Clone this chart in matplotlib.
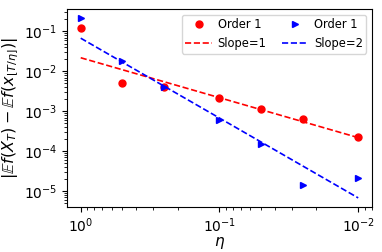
import numpy as np
import matplotlib
matplotlib.use("Agg")
import matplotlib.pyplot as plt

eta = [1.0, 0.5, 0.25, 0.1, 0.05, 0.025, 0.01]
err_red = [0.122, 0.0050, 0.0040, 0.0021, 0.00115, 0.00064, 0.000224]
err_blue = [0.217, 0.0178, 0.0041, 0.0006, 0.000155, 0.0000145, 0.0000214]
coef_slope1 = 0.022
coef_slope2 = 0.068

fig = plt.figure(figsize=(3.82, 2.52), dpi=100)
ax = fig.add_axes([0.175, 0.179, 0.799, 0.785])

e = np.array(eta)
ax.loglog(e, err_red, 'o', color='red', markersize=5, label='Order 1')
ax.loglog(e, coef_slope1 * e, '--', color='red', linewidth=1.2, label='Slope=1')
ax.loglog(e, err_blue, '>', color='blue', markersize=5, label='Order 1')
ax.loglog(e, coef_slope2 * e**2, '--', color='blue', linewidth=1.2, label='Slope=2')
ax.invert_xaxis()

ax.tick_params(labelsize=10)
ax.set_xlabel(r'$\eta$', fontsize=11, labelpad=0)
ax.set_ylabel(r'$|\mathbb{E}f(X_T)-\mathbb{E}f(x_{\lfloor T/\eta\rfloor})|$',
              fontsize=11.5)
ax.yaxis.set_label_coords(-0.15, 0.5)

h, l = ax.get_legend_handles_labels()
ax.legend(h, l, ncol=2, fontsize=8.3, loc='upper right',
          handlelength=2.3, handletextpad=0.5, columnspacing=1.3, borderpad=0.3)

fig.savefig('out.png', dpi=100)
